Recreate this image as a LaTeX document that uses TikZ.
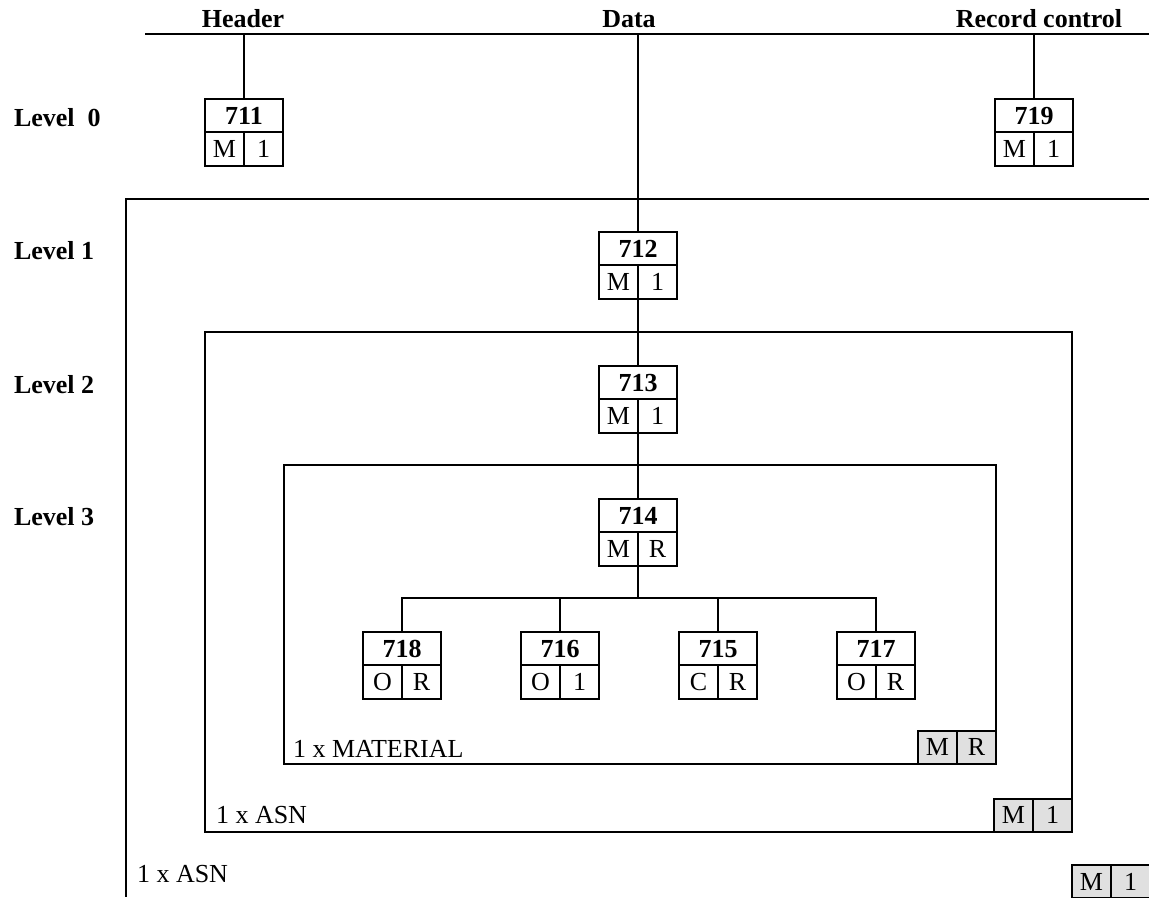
\documentclass[tikz,border=0pt]{standalone}
\usepackage{fontspec}
\setmainfont{Liberation Serif}
\definecolor{flaggray}{RGB}{224,224,224}
\begin{document}
\begin{tikzpicture}[
  x=0.75pt, y=-0.75pt,
  line width=1.5pt,
  font=\fontsize{19.5}{22}\selectfont,
  numcell/.style = {draw, inner sep=0pt, outer sep=0pt, minimum width=58.5pt, minimum height=25.1pt, font=\fontsize{19.5}{22}\selectfont\bfseries},
  flagcell/.style = {draw, inner sep=0pt, outer sep=0pt, minimum width=29.25pt, minimum height=25.1pt},
  graycell/.style = {flagcell, fill=flaggray},
  toplbl/.style = {anchor=base, font=\fontsize{19.5}{22}\selectfont\bfseries},
  levellbl/.style = {anchor=base west, font=\fontsize{19.5}{22}\selectfont\bfseries},
  framelbl/.style = {anchor=base west, inner sep=0pt}
]
  \useasboundingbox (0,0) rectangle (1149,897);
  % segment titles and bar
  \node[toplbl] (hdr) at (243,27) {Header};
  \node[toplbl] (dat) at (629,27) {Data};
  \node[toplbl] (rec) at (1039,27) {Record control};
  \coordinate (barW) at (145,34);
  \coordinate (barE) at (1149,34);
  \draw (barW) -- (barE);
  % level labels
  \node[levellbl, inner sep=0pt] (lv0) at (13,126) {Level\ \ 0};
  \node[levellbl, inner sep=0pt] (lv1) at (13,259) {Level 1};
  \node[levellbl, inner sep=0pt] (lv2) at (13,393) {Level 2};
  \node[levellbl, inner sep=0pt] (lv3) at (13,525) {Level 3};
  % frames
  \draw (1149,199) -- (126,199) -- (126,897);
  \draw (205,332) rectangle (1072,832);
  \draw (284,465) rectangle (996,764);
  \node[framelbl] (asnout) at (136,882) {1 x ASN};
  \node[framelbl] (asnin) at (215,823) {1 x ASN};
  \node[framelbl] (mat) at (292,757) {1 x MATERIAL};
  % frame flags
  \node[graycell, anchor=south east] (matR) at (996,764) {R};
  \node[graycell, anchor=south east] (matM) at (matR.south west) {M};
  \node[graycell, anchor=south east] (asn1) at (1072,832) {1};
  \node[graycell, anchor=south east] (asnM) at (asn1.south west) {M};
  \node[graycell, anchor=north west] (outM) at (1072,865) {M};
  \node[graycell, anchor=north west] (out1) at (outM.north east) {1};
  % segment boxes
  \foreach \nm/\cx/\ty/\fa/\fb in {711/244/99/M/1, 719/1034/99/M/1,
      712/638/232/M/1, 713/638/366/M/1, 714/638/499/M/R,
      718/402/632/O/R, 716/560/632/O/1, 715/718/632/C/R, 717/876/632/O/R} {
    \node[numcell, anchor=north] (b\nm) at (\cx,\ty) {\nm};
    \node[flagcell, anchor=north east] (b\nm l) at (b\nm.south) {\fa};
    \node[flagcell, anchor=north west] (b\nm r) at (b\nm.south) {\fb};
  }
  % connectors
  \coordinate (fork) at (638,598);
  \draw (b711.north |- barW) -- (b711.north);
  \draw (b719.north |- barW) -- (b719.north);
  \draw (b712.north |- barW) -- (b712.north);
  \draw (b712l.south east) -- (b713.north);
  \draw (b713l.south east) -- (b714.north);
  \draw (b714l.south east) -- (fork);
  \draw (b718.north) |- (fork);
  \draw (b716.north) |- (fork);
  \draw (b715.north) |- (fork);
  \draw (b717.north) |- (fork);
\end{tikzpicture}
\end{document}
